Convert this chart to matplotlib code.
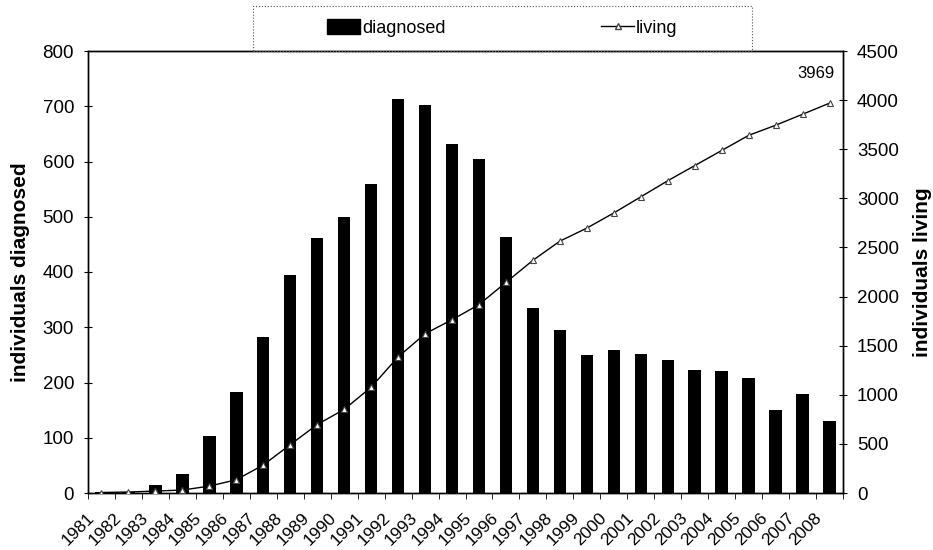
import matplotlib
matplotlib.use("Agg")
import matplotlib.pyplot as plt
import matplotlib.transforms as mtransforms
import numpy as np
from matplotlib.lines import Line2D
from matplotlib.patches import Patch, Rectangle

plt.rcParams['font.family'] = ['Liberation Sans', 'DejaVu Sans']

years = [str(y) for y in range(1981, 2009)]
diagnosed = [1, 2, 14, 34, 104, 182, 282, 395, 461, 499, 560, 713, 703, 632,
             604, 463, 335, 295, 249, 259, 252, 241, 223, 220, 209, 151, 180, 131]
living = [5, 10, 20, 30, 70, 135, 285, 492, 697, 851, 1077, 1385, 1621, 1764,
          1918, 2144, 2369, 2564, 2697, 2851, 3015, 3179, 3333, 3487, 3641,
          3744, 3856, 3969]

W, H = 933, 550
fig = plt.figure(figsize=(W / 100, H / 100), dpi=100)
ax = fig.add_axes([88 / W, 57 / H, 755 / W, 442 / H])
ax2 = ax.twinx()

x = np.arange(len(years))
ax.bar(x, diagnosed, width=0.46, color='black', zorder=2)
ax.set_xlim(-0.5, len(years) - 0.5)
ax.set_ylim(0, 800)
ax.set_yticks(range(0, 801, 100))
ax.set_ylabel('individuals diagnosed', fontsize=15, fontweight='bold', labelpad=9)

ax2.plot(x, living, color='black', lw=1.0, marker='^', markersize=5,
         markerfacecolor='white', markeredgecolor='#444444', markeredgewidth=0.8, zorder=3)
ax2.set_ylim(0, 4500)
ax2.set_yticks(range(0, 4501, 500))
ax2.set_ylabel('individuals living', fontsize=15, fontweight='bold', labelpad=10)
ax2.annotate(str(living[-1]), xy=(x[-1], living[-1]), xytext=(-10, 21),
             textcoords='offset points', ha='center', va='center', fontsize=12)

ax.set_xticks(x)
ax.set_xticklabels(years, rotation=45, ha='right', va='center',
                   rotation_mode='anchor', fontsize=12.5)
ax.tick_params(axis='x', length=0, pad=16)
offset = mtransforms.ScaledTranslation(-10 / 100, 0, fig.dpi_scale_trans)
for lbl in ax.get_xticklabels():
    lbl.set_transform(lbl.get_transform() + offset)
ax.set_xticks(np.arange(-0.5, len(years)), minor=True)
ax.tick_params(axis='x', which='minor', length=4, direction='out', width=0.6)
ax.tick_params(axis='y', labelsize=13.5, length=6, width=0.8, direction='inout', pad=7)
ax2.tick_params(axis='y', labelsize=13.5, length=6, width=0.8, direction='inout', pad=7)

for a in (ax, ax2):
    for s in a.spines.values():
        s.set_linewidth(1.0)

# legend box
fig.patches.append(Rectangle((253 / W, 1 - 51 / H), (752 - 253) / W, 45 / H,
                             transform=fig.transFigure, fill=False,
                             edgecolor='#555555', linewidth=0.8, linestyle=':',
                             zorder=0))

handles = [Patch(facecolor='black', edgecolor='black'),
           Line2D([0], [0], color='black', lw=1.0, marker='^', markersize=4,
                  markerfacecolor='white', markeredgecolor='#444444')]
leg = fig.legend(handles, ['diagnosed', 'living'], ncol=2, loc='center left',
                 bbox_to_anchor=(327 / W, 1 - 28 / H), fontsize=13, frameon=False,
                 columnspacing=8.6, handlelength=1.85, handleheight=0.85,
                 handletextpad=0.1, borderpad=0.0, borderaxespad=0.0)

fig.savefig('out.png', dpi=100, facecolor='white')
